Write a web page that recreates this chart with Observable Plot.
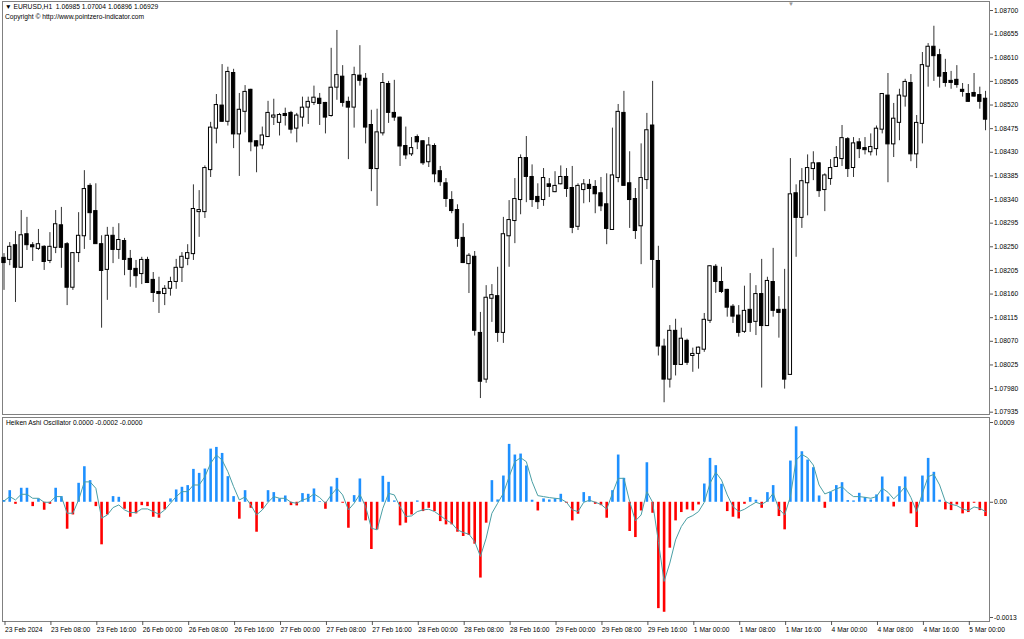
<!DOCTYPE html>
<html><head><meta charset="utf-8">
<script src="https://cdn.jsdelivr.net/npm/d3@7"></script>
<script src="https://cdn.jsdelivr.net/npm/@observablehq/plot@0.6"></script>
<style>
html,body{margin:0;padding:0;background:#fff;}
#wrap{position:relative;width:1024px;height:639px;overflow:hidden;font-family:"Liberation Sans",Arial,sans-serif;background:#fff;}
.lbl{position:absolute;font-size:6.7px;color:#000;white-space:pre;line-height:1;}
.pane{position:absolute;left:0;}
</style></head><body>
<div id="wrap">
  <div id="main" class="pane" style="top:0"></div>
  <div id="osc" class="pane" style="top:416px"></div>
  <div class="lbl" style="left:5px;top:4px">▼ EURUSD,H1  1.06985 1.07004 1.06896 1.06929</div>
  <div class="lbl" style="left:5px;top:14px">Copyright © http://www.pointzero-indicator.com</div>
  <div class="lbl" style="left:6px;top:420px">Heiken Ashi Oscillator 0.0000 -0.0002 -0.0000</div>
  <div class="lbl" style="left:788px;top:1px;color:#999;font-size:6px">▼</div>
</div>
<script>
// ---- data (EURUSD H1, 23 Feb 2024 00:00 .. 5 Mar 2024 03:00) ----
const open = [1.08228,1.08226,1.08252,1.08211,1.08273,1.08252,1.08247,1.08249,1.08224,1.08249,
1.08290,1.08254,1.08173,1.08239,1.08271,1.08365,1.08317,1.08254,1.08207,1.08270,
1.08245,1.08260,1.08226,1.08207,1.08199,1.08224,1.08186,1.08163,1.08161,1.08171,
1.08184,1.08211,1.08228,1.08237,1.08317,1.08317,1.08397,1.08476,1.08518,1.08489,
1.08580,1.08465,1.08508,1.08548,1.08450,1.08444,1.08460,1.08497,1.08487,1.08502,
1.08504,1.08476,1.08497,1.08516,1.08525,1.08531,1.08523,1.08500,1.08554,1.08573,
1.08525,1.08516,1.08575,1.08569,1.08481,1.08399,1.08467,1.08559,1.08504,1.08495,
1.08441,1.08427,1.08458,1.08450,1.08412,1.08441,1.08393,1.08370,1.08338,1.08319,
1.08266,1.08218,1.08230,1.08085,1.07998,1.08152,1.08155,1.08087,1.08271,1.08300,
1.08340,1.08418,1.08382,1.08344,1.08340,1.08368,1.08355,1.08370,1.08382,1.08361,
1.08289,1.08359,1.08367,1.08363,1.08351,1.08330,1.08283,1.08382,1.08504,1.08370,
1.08340,1.08290,1.08378,1.08480,1.08222,1.08059,1.07998,1.08089,1.08026,1.08070,
1.08043,1.08047,1.08055,1.08110,1.08211,1.08182,1.08167,1.08135,1.08118,1.08089,
1.08129,1.08108,1.08159,1.08100,1.08182,1.08129,1.08129,1.08007,1.08351,1.08306,
1.08372,1.08399,1.08408,1.08359,1.08380,1.08403,1.08418,1.08454,1.08401,1.08448,
1.08437,1.08431,1.08437,1.08474,1.08537,1.08446,1.08487,1.08537,1.08561,1.08427,
1.08485,1.08594,1.08630,1.08614,1.08580,1.08565,1.08567,1.08548,1.08540,1.08542,
1.08538,1.08531];
const high = [1.08237,1.08258,1.08279,1.08319,1.08306,1.08258,1.08283,1.08252,1.08277,1.08319,
1.08325,1.08258,1.08239,1.08315,1.08395,1.08370,1.08370,1.08271,1.08287,1.08287,
1.08294,1.08266,1.08243,1.08224,1.08230,1.08230,1.08201,1.08192,1.08176,1.08192,
1.08226,1.08239,1.08254,1.08368,1.08357,1.08404,1.08487,1.08540,1.08597,1.08592,
1.08588,1.08542,1.08557,1.08550,1.08452,1.08478,1.08527,1.08531,1.08504,1.08514,
1.08508,1.08504,1.08535,1.08535,1.08556,1.08542,1.08525,1.08628,1.08662,1.08595,
1.08535,1.08592,1.08633,1.08580,1.08510,1.08512,1.08580,1.08565,1.08567,1.08497,
1.08478,1.08458,1.08463,1.08452,1.08458,1.08446,1.08403,1.08380,1.08355,1.08330,
1.08294,1.08237,1.08241,1.08125,1.08176,1.08178,1.08211,1.08306,1.08338,1.08380,
1.08425,1.08460,1.08406,1.08370,1.08399,1.08380,1.08393,1.08404,1.08399,1.08403,
1.08370,1.08378,1.08378,1.08376,1.08382,1.08389,1.08476,1.08521,1.08546,1.08431,
1.08361,1.08446,1.08504,1.08565,1.08251,1.08074,1.08100,1.08112,1.08095,1.08074,
1.08057,1.08059,1.08123,1.08214,1.08216,1.08211,1.08169,1.08140,1.08138,1.08175,
1.08199,1.08176,1.08226,1.08192,1.08247,1.08155,1.08207,1.08418,1.08368,1.08399,
1.08425,1.08431,1.08410,1.08389,1.08416,1.08441,1.08481,1.08458,1.08458,1.08456,
1.08458,1.08465,1.08480,1.08542,1.08580,1.08523,1.08550,1.08569,1.08578,1.08500,
1.08620,1.08637,1.08670,1.08626,1.08607,1.08584,1.08595,1.08561,1.08559,1.08580,
1.08554,1.08546];
const low = [1.08167,1.08214,1.08144,1.08209,1.08243,1.08222,1.08243,1.08205,1.08218,1.08237,
1.08209,1.08138,1.08167,1.08220,1.08245,1.08262,1.08256,1.08095,1.08148,1.08218,
1.08226,1.08195,1.08173,1.08171,1.08178,1.08180,1.08144,1.08123,1.08138,1.08156,
1.08169,1.08182,1.08214,1.08224,1.08268,1.08304,1.08382,1.08446,1.08487,1.08480,
1.08437,1.08384,1.08467,1.08431,1.08391,1.08435,1.08458,1.08481,1.08461,1.08480,
1.08465,1.08448,1.08478,1.08483,1.08519,1.08481,1.08465,1.08497,1.08529,1.08516,
1.08416,1.08476,1.08556,1.08446,1.08355,1.08327,1.08461,1.08485,1.08489,1.08403,
1.08416,1.08422,1.08435,1.08405,1.08401,1.08372,1.08365,1.08325,1.08313,1.08249,
1.08218,1.08161,1.08080,1.07961,1.07990,1.08106,1.08068,1.08066,1.08211,1.08256,
1.08311,1.08334,1.08325,1.08321,1.08327,1.08344,1.08353,1.08368,1.08344,1.08275,
1.08281,1.08332,1.08334,1.08313,1.08317,1.08254,1.08281,1.08372,1.08367,1.08285,
1.08264,1.08216,1.08359,1.08171,1.08042,1.07953,1.07981,1.08004,1.08024,1.08024,
1.08011,1.08017,1.08049,1.08104,1.08161,1.08161,1.08116,1.08104,1.08078,1.08085,
1.08087,1.08081,1.07981,1.08099,1.08116,1.08076,1.07979,1.08006,1.08230,1.08285,
1.08309,1.08376,1.08344,1.08317,1.08367,1.08401,1.08403,1.08382,1.08382,1.08418,
1.08425,1.08423,1.08423,1.08465,1.08372,1.08420,1.08452,1.08516,1.08412,1.08399,
1.08446,1.08554,1.08565,1.08552,1.08554,1.08550,1.08552,1.08535,1.08525,1.08535,
1.08512,1.08471];
const close = [1.08220,1.08249,1.08211,1.08271,1.08254,1.08250,1.08254,1.08222,1.08249,1.08292,
1.08249,1.08173,1.08237,1.08270,1.08359,1.08315,1.08256,1.08205,1.08270,1.08245,
1.08262,1.08226,1.08207,1.08195,1.08224,1.08182,1.08163,1.08161,1.08169,1.08182,
1.08209,1.08230,1.08237,1.08321,1.08319,1.08399,1.08476,1.08519,1.08489,1.08582,
1.08465,1.08510,1.08544,1.08450,1.08442,1.08461,1.08504,1.08499,1.08500,1.08500,
1.08474,1.08499,1.08514,1.08525,1.08533,1.08523,1.08497,1.08552,1.08576,1.08525,
1.08516,1.08576,1.08567,1.08478,1.08399,1.08467,1.08561,1.08506,1.08497,1.08442,
1.08425,1.08437,1.08450,1.08410,1.08442,1.08389,1.08374,1.08342,1.08319,1.08266,
1.08220,1.08232,1.08091,1.07994,1.08152,1.08157,1.08087,1.08273,1.08300,1.08340,
1.08418,1.08384,1.08340,1.08336,1.08380,1.08365,1.08365,1.08382,1.08361,1.08287,
1.08365,1.08368,1.08361,1.08351,1.08328,1.08285,1.08385,1.08506,1.08367,1.08340,
1.08281,1.08380,1.08471,1.08226,1.08061,1.07998,1.08089,1.08026,1.08074,1.08030,
1.08045,1.08057,1.08110,1.08212,1.08184,1.08165,1.08135,1.08118,1.08087,1.08127,
1.08106,1.08159,1.08100,1.08184,1.08129,1.08125,1.07998,1.08349,1.08306,1.08374,
1.08399,1.08408,1.08357,1.08385,1.08399,1.08418,1.08456,1.08399,1.08446,1.08437,
1.08435,1.08439,1.08474,1.08540,1.08446,1.08493,1.08537,1.08563,1.08427,1.08485,
1.08595,1.08630,1.08614,1.08575,1.08563,1.08563,1.08559,1.08546,1.08527,1.08537,
1.08527,1.08493];
// Heiken Ashi oscillator histogram and signal, in points (1 point = 0.00001)
const histPoints = [2,13.1,-2.3,15.8,15.8,-4.9,3.8,-9,-2.3,15.8,
6.4,-30.4,-14.3,21.4,40.1,24.4,-4.9,-48,-14.3,6.4,
5.6,-7.9,-16.9,-13.1,-3.8,-4.9,-16.9,-18,-8.6,3.8,
13.9,16.9,18.8,37.1,32.6,37.5,60,61.9,55.1,28.9,
6.4,-19.1,13.1,-6.8,-33.8,-7.5,13.1,10.9,3.8,7.1,
-3.8,-4.1,9.8,9,15,0.8,-7.9,17.3,27,-1.1,
-29.3,7.5,26.3,-21,-53.3,-31.1,29.3,22.5,1.5,-26.6,
-23.6,-14.3,1.5,-10.5,-6.8,-10.5,-21.8,-25.5,-25.5,-33.8,
-38.6,-37.5,-47.3,-85.5,-23.6,24.4,2.6,29.6,65.3,53.3,
54.4,40.9,2.3,-9.8,3.8,2.6,3.8,9,-1.1,-21,
-13.5,10.9,6.4,-2.3,-3.8,-18,13.1,53.3,27,-33,
-39.8,-9.8,44.6,-12.4,-120,-124.1,-51.8,-21,-11.6,-8.6,
-9.8,-3,20.6,49.5,41.3,20.3,-10.5,-16.9,-18.8,-2.3,
5.3,2.3,-6.8,10.9,18.8,-16.1,-31.1,46.5,85.1,57,
47.6,39,7.1,-6.8,11.3,18.8,22.1,1.9,1.5,10.1,
5.3,2.6,8.3,28.5,6,-5.3,17.6,28.5,-13.1,-28.5,
29.6,49.5,33.8,2.3,-8.6,-9.4,-3,-13.1,-11.6,-1.1,
-9.4,-16.1];
const signalPoints = [1.5,6.4,2.6,9,9,4.5,4.5,0,0,6.4,
6.4,-12.4,-12.4,2.6,23,23,15.8,-18,-14.3,-6,
-3,-8.6,-11.6,-11.6,-7.5,-7.5,-10.5,-13.5,-8.6,-1.1,
6.4,12,12,19.5,19.5,28.9,43.9,53.3,47.6,34.5,
17.6,2.6,6,-3,-14.3,-8.6,0,6.4,4.5,4.5,
0,-1.1,2.6,4.5,9.4,5.3,-1.1,8.3,15.8,8.3,
-8.6,-1.1,9,-4.9,-29.3,-31.1,-6.8,10.1,8.3,-4.9,
-16.1,-15.4,-10.5,-8.6,-7.9,-10.5,-15,-19.9,-23.6,-31.1,
-34.1,-36,-44.3,-61.1,-40.5,-12.4,-1.1,10.1,28.9,45.8,
50.3,45.8,23.3,7.5,6.4,5.3,4.5,3.8,0,-8.6,
-10.5,0,2.3,0,-2.3,-7.9,10.1,27,27,0.8,
-21,-14.3,12,0,-44.3,-89.3,-68.6,-42.4,-27.4,-18,
-15,-10.5,0,21.4,33.8,25.1,8.3,-4.9,-10.5,-7.9,
-3.8,0,-2.3,1.5,10.1,-7.5,-14.3,6.4,47.6,54,
50.3,42,19.5,9.4,12,15,17.6,11.3,6.4,6.4,
5.6,4.5,6.4,15.8,11.3,3.8,10.1,17.6,5.3,-10.5,
10.1,28.9,31.5,19.5,0.8,-2.3,-3.8,-7.5,-9.4,-5.3,
-6.8,-10.5];
const priceTicks = [1.07935,1.07980,1.08025,1.08070,1.08115,1.08160,1.08205,1.08250,1.08295,
1.08340,1.08385,1.08430,1.08475,1.08520,1.08565,1.08610,1.08655,1.08700];
const oscTicks = [0.0009, 0, -0.0013];
const oscTickLabels = ["0.0009", "0.00", "-0.0013"];
const timeTickBars = [0,8,16,24,32,40,48,56,64,72,80,88,96,104,112,120,128,136,144,152,160,168];
const timeTickLabels = ["23 Feb 2024","23 Feb 08:00","23 Feb 16:00","26 Feb 00:00","26 Feb 08:00",
"26 Feb 16:00","27 Feb 00:00","27 Feb 08:00","27 Feb 16:00","28 Feb 00:00","28 Feb 08:00",
"28 Feb 16:00","29 Feb 00:00","29 Feb 08:00","29 Feb 16:00","1 Mar 00:00","1 Mar 08:00",
"1 Mar 16:00","4 Mar 00:00","4 Mar 08:00","4 Mar 16:00","5 Mar 00:00"];

// ---- build tables ----
const POINT = 1e-5;
const candles = open.map((o, i) => ({i, o, h: high[i], l: low[i], c: close[i]}));
const hist = histPoints.map((p, i) => ({i, v: p * POINT}));
const signal = signalPoints.map((p, i) => ({i, v: p * POINT}));

const W = 1024, plotLeft = 2, plotRight = 989, barStep = 5.74, firstBarX = 3.5;
const xDomain = [(plotLeft - firstBarX) / barStep, (plotRight - firstBarX) / barStep];
const FONT = "Liberation Sans, Arial, sans-serif";
const half = 0.29;

const main = Plot.plot({
  width: W, height: 416,
  marginLeft: plotLeft, marginRight: W - plotRight, marginTop: 1, marginBottom: 2,
  style: {fontFamily: FONT, fontSize: "6.7px", color: "#000", background: "#fff", overflow: "visible"},
  x: {type: "linear", domain: xDomain, range: [plotLeft, plotRight], axis: null, label: null},
  y: {type: "linear", domain: [1.07935, 1.087], range: [411.7, 10], axis: null, label: null},
  marks: [
    Plot.frame({stroke: "#808080"}),
    Plot.ruleX(candles, {x: "i", y1: "l", y2: "h", stroke: "#333", strokeWidth: 1}),
    Plot.rect(candles, {
      x1: d => d.i - half, x2: d => d.i + half, y1: "o", y2: "c",
      insetTop: -0.5, insetBottom: -0.5,
      fill: d => d.c >= d.o ? "#fff" : "#000", stroke: "#000", strokeWidth: 1
    }),
    Plot.axisY({anchor: "right", ticks: priceTicks, tickFormat: d => d.toFixed(5), label: null,
      tickSize: 3, tickPadding: 1.5, stroke: "#555", fill: "#000"})
  ]
});
document.getElementById("main").appendChild(main);

const osc = Plot.plot({
  width: W, height: 223,
  marginLeft: plotLeft, marginRight: W - plotRight, marginTop: 1, marginBottom: 18,
  style: {fontFamily: FONT, fontSize: "6.7px", color: "#000", background: "#fff", overflow: "visible"},
  x: {type: "linear", domain: xDomain, range: [plotLeft, plotRight], axis: null, label: null},
  y: {type: "linear", domain: [-0.0013, 0.0009], range: [201, 6], axis: null, label: null},
  marks: [
    Plot.frame({stroke: "#808080"}),
    Plot.ruleX(hist, {x: "i", y1: 0, y2: "v", stroke: d => d.v >= 0 ? "#1E90FF" : "#FF0000", strokeWidth: 2.6}),
    Plot.line(signal, {x: "i", y: "v", stroke: "#4A9FA5", strokeWidth: 1}),
    Plot.axisY({anchor: "right", ticks: oscTicks, tickFormat: (d, k) => oscTickLabels[k], label: null,
      tickSize: 3, tickPadding: 1.5, stroke: "#555", fill: "#000"}),
    Plot.axisX({anchor: "bottom", ticks: timeTickBars, tickFormat: (d, k) => timeTickLabels[k], label: null,
      tickSize: 4, tickPadding: 2, textAnchor: "start", dx: 1, stroke: "#555", fill: "#000"})
  ]
});
document.getElementById("osc").appendChild(osc);
</script>
</body></html>
